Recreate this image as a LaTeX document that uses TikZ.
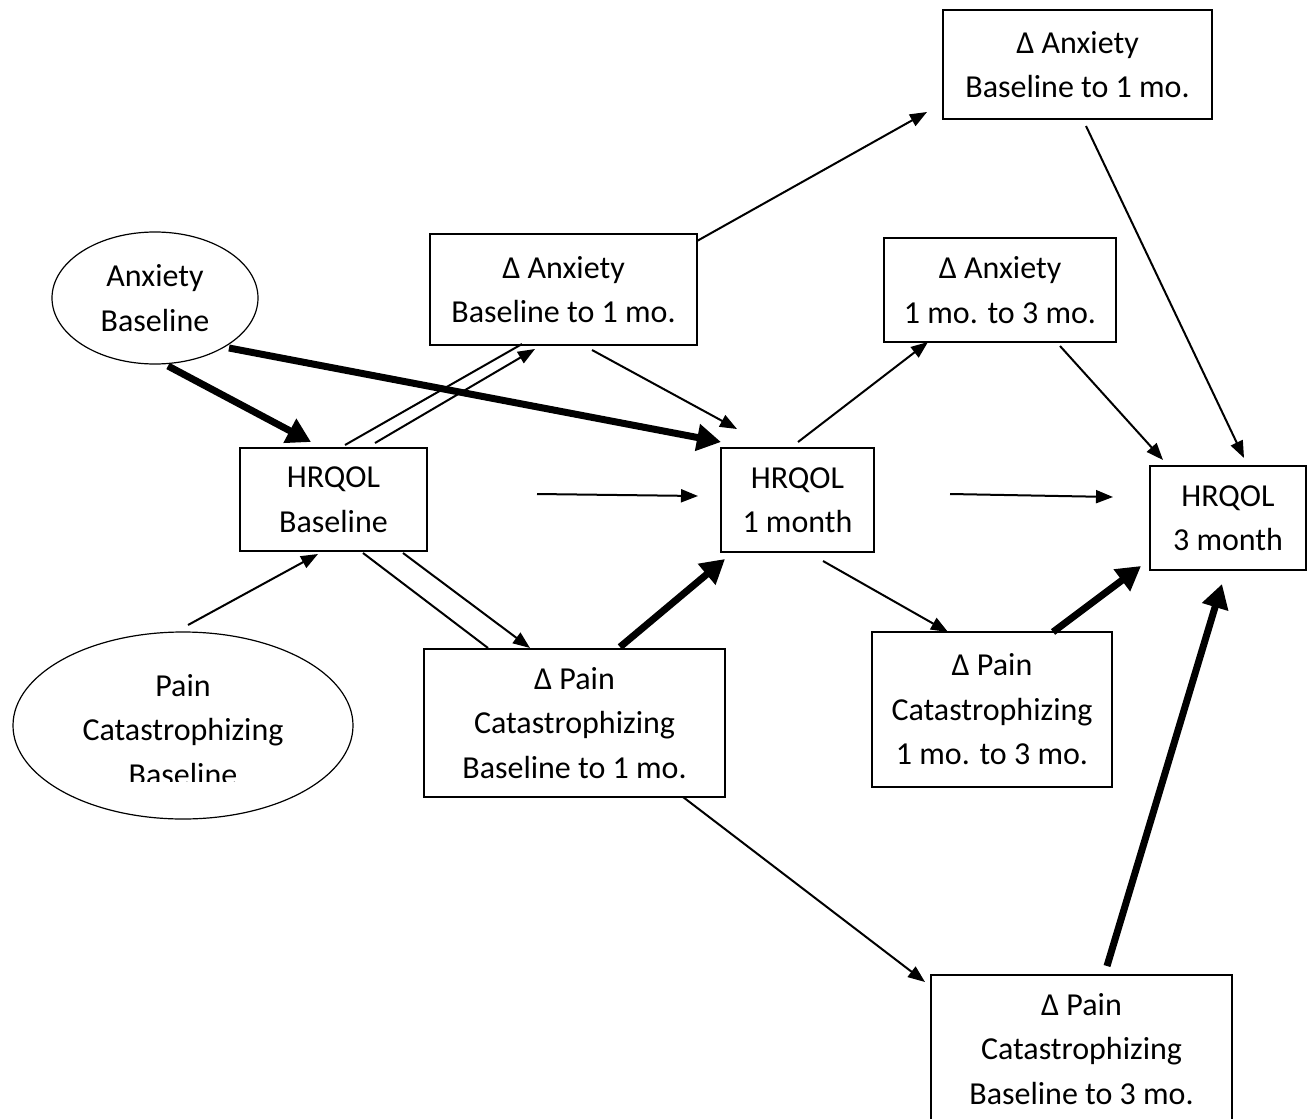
\documentclass[tikz,border=0pt]{standalone}
\usepackage{fontspec}
\setmainfont{Carlito}
\usetikzlibrary{arrows.meta,shapes.geometric}
\begin{document}
\begin{tikzpicture}[x=1pt,y=-1pt,
  every node/.style={font=\fontsize{32}{44.5}\selectfont, align=center, inner sep=0pt},
  box/.style={draw, line width=1.4pt, rectangle},
  oval/.style={draw, line width=1.2pt, ellipse},
  thinarr/.style={line width=2pt, -{Triangle[length=17pt,width=13pt]}},
  thickarr/.style={line width=7pt, -{Triangle[length=24pt,width=26pt]}},
  plainline/.style={line width=2pt}]
\fill[white] (0,0) rectangle (1313,1118);
\useasboundingbox (0,0) rectangle (1313,1118);

% nodes
\node[box, minimum width=269, minimum height=109] (anxTop) at (1077.5,64.5) {Δ Anxiety\\Baseline to 1 mo.};
\node[box, minimum width=267, minimum height=111] (anxB1) at (563.5,289.5) {Δ Anxiety\\Baseline to 1 mo.};
\node[box, minimum width=232, minimum height=104] (anx13) at (1000,290) {Δ Anxiety\\1 mo. to 3 mo.};
\node[oval, minimum width=206, minimum height=132] (anxBase) at (155,298) {Anxiety\\Baseline};
\node[box, minimum width=187, minimum height=103] (hB) at (333.5,499.5) {HRQOL\\Baseline};
\node[box, minimum width=153, minimum height=104] (h1) at (797.5,500) {HRQOL\\1 month};
\node[box, minimum width=156, minimum height=104] (h3) at (1228,518) {HRQOL\\3 month};
\node[oval, minimum width=340, minimum height=187] (pcBase) at (183,725.5) {};
\begin{scope}
  \clip (0,600) rectangle (400,781);
  \node (pcBaseText) at (183,730) {Pain\\Catastrophizing\\Baseline};
\end{scope}
\node[box, minimum width=301, minimum height=148] (pcB1) at (574.5,723) {Δ Pain\\Catastrophizing\\Baseline to 1 mo.};
\node[box, minimum width=240, minimum height=155] (pc13) at (992,709.5) {Δ Pain\\Catastrophizing\\1 mo. to 3 mo.};
\node[box, minimum width=301, minimum height=148] (pcB3) at (1081.5,1049) {Δ Pain\\Catastrophizing\\Baseline to 3 mo.};

% connector end points
\coordinate (a1s) at (697,241);   \coordinate (a1e) at (927,112);
\coordinate (a2s) at (1086,126);  \coordinate (a2e) at (1244,458);
\coordinate (a3s) at (1060,346);  \coordinate (a3e) at (1163,460);
\coordinate (a4s) at (798,442);   \coordinate (a4e) at (928,342);
\coordinate (a5s) at (592,350);   \coordinate (a5e) at (737,429);
\coordinate (a6s) at (229,348);   \coordinate (a6e) at (721,442);
\coordinate (a7s) at (168,366);   \coordinate (a7e) at (311,442);
\coordinate (a8s) at (345,445);   \coordinate (a8e) at (522,344);
\coordinate (a9s) at (375,443);   \coordinate (a9e) at (535,349);
\coordinate (b1s) at (537,494);   \coordinate (b1e) at (698,496);
\coordinate (b2s) at (950,494);   \coordinate (b2e) at (1113,497);
\coordinate (c1s) at (188,625);   \coordinate (c1e) at (318,554);
\coordinate (c2s) at (363,553);   \coordinate (c2e) at (488,648);
\coordinate (c3s) at (403,553);   \coordinate (c3e) at (530,648);
\coordinate (c4s) at (620,647);   \coordinate (c4e) at (725,559);
\coordinate (c5s) at (823,561);   \coordinate (c5e) at (948,632);
\coordinate (c6s) at (1053,632);  \coordinate (c6e) at (1141,566);
\coordinate (c7s) at (683,797);   \coordinate (c7e) at (925,982);
\coordinate (c8s) at (1107,966);  \coordinate (c8e) at (1222,584);

% connectors
\draw[thinarr] (a1s) -- (a1e);
\draw[thinarr] (a2s) -- (a2e);
\draw[thinarr] (a3s) -- (a3e);
\draw[thinarr] (a4s) -- (a4e);
\draw[thinarr] (a5s) -- (a5e);
\draw[thickarr] (a6s) -- (a6e);
\draw[thickarr] (a7s) -- (a7e);
\draw[plainline] (a8s) -- (a8e);
\draw[thinarr] (a9s) -- (a9e);
\draw[thinarr] (b1s) -- (b1e);
\draw[thinarr] (b2s) -- (b2e);
\draw[thinarr] (c1s) -- (c1e);
\draw[plainline] (c2s) -- (c2e);
\draw[thinarr] (c3s) -- (c3e);
\draw[thickarr] (c4s) -- (c4e);
\draw[thinarr] (c5s) -- (c5e);
\draw[thickarr] (c6s) -- (c6e);
\draw[thinarr] (c7s) -- (c7e);
\draw[thickarr] (c8s) -- (c8e);
\end{tikzpicture}
\end{document}
